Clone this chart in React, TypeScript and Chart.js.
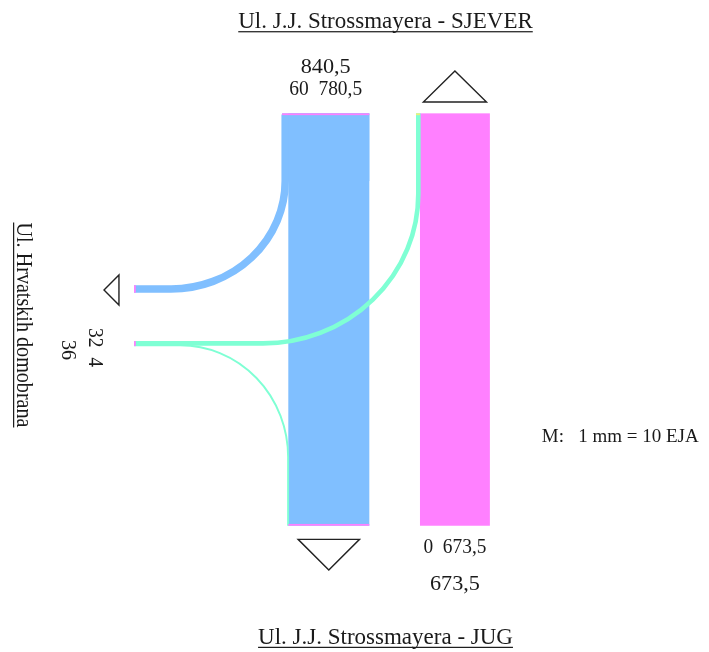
import React, { useEffect, useRef } from "react";
import { Chart, registerables } from "chart.js";

Chart.register(...registerables);

// ---------------- DATA (EJA) ----------------
const legNames = [
  "Ul. J.J. Strossmayera - SJEVER",
  "Ul. J.J. Strossmayera - JUG",
  "Ul. Hrvatskih domobrana",
];
// North approach (southbound): [right turn -> west, straight -> south]
const northTurns = [60, 780.5];
// South approach (northbound): [left turn -> west, straight -> north]
const southTurns = [0, 673.5];
// West approach (eastbound): [left turn -> north, right turn -> south]
const westTurns = [32, 4];
const scaleNote = "M:   1 mm = 10 EJA";
const EJA_PER_MM = 10;

// ---------------- STYLE / LAYOUT ----------------
const CANVAS_W = 709;
const CANVAS_H = 652;
const PX_PER_MM = 1.038;
const BAND_PAD_PX = 1.3;
const COLORS = {
  north: "#80BFFF",
  south: "#FF80FF",
  west: "#7FFFD4",
  cap: "#FF80FF",
  capYellow: "#EEF07A",
  ink: "#1a1a1a",
};
const FONT = '"Liberation Serif", "Times New Roman", serif';

// layout in mm (chart units)
const LAYOUT = {
  top: 109.2,
  bottom: 506.5,
  northRight: 355.8,
  southLeft: 404.6,
  westStart: 129.1,
  westOutY: 278.4,
  westInTop: 329.2,
  rOut: [110, 104],
  rToNorth: [149.6, 144],
  rToSouth: [104, 107.7],
};

const fmt = (v: number) => String(v).replace(".", ",");
const sum = (a: number[]) => a.reduce((s, v) => s + v, 0);
const mm = (eja: number) => eja / EJA_PER_MM;

const flowPlugin = {
  id: "flowDiagram",
  afterDatasetsDraw(chart: any) {
    const { ctx } = chart;
    const xs = chart.scales.x;
    const ys = chart.scales.y;
    const X = (v: number) => xs.getPixelForValue(v);
    const Y = (v: number) => ys.getPixelForValue(v);
    const LX = (d: number) => X(d) - X(0);
    const LY = (d: number) => Y(d) - Y(0);
    const L = LAYOUT;

    const northStraightLeft = L.northRight - mm(northTurns[1]);
    const northTotalLeft = northStraightLeft - mm(northTurns[0]);
    const southRight = L.southLeft + mm(southTurns[1]);

    ctx.save();

    // ---- north approach (blue) ----
    const outVx = northTotalLeft + mm(northTurns[0]) / 2;
    const outArcY = L.westOutY - L.rOut[1];
    ctx.fillStyle = COLORS.north;
    ctx.fillRect(X(northTotalLeft), Y(L.top), X(L.northRight) - X(northTotalLeft), Y(outArcY) - Y(L.top));
    ctx.fillRect(X(northStraightLeft), Y(L.top), X(L.northRight) - X(northStraightLeft), Y(L.bottom) - Y(L.top));

    ctx.lineCap = "butt";
    ctx.lineJoin = "round";
    // right turn north -> west
    ctx.strokeStyle = COLORS.north;
    ctx.lineWidth = Math.max(LX(mm(northTurns[0])) + BAND_PAD_PX, 1.6);
    ctx.beginPath();
    ctx.moveTo(X(outVx), Y(L.top + 1));
    ctx.lineTo(X(outVx), Y(outArcY));
    ctx.ellipse(X(outVx - L.rOut[0]), Y(outArcY), LX(L.rOut[0]), LY(L.rOut[1]), 0, 0, Math.PI / 2, false);
    ctx.lineTo(X(L.westStart), Y(L.westOutY));
    ctx.stroke();

    // ---- south approach (pink) ----
    ctx.fillStyle = COLORS.south;
    ctx.fillRect(X(L.southLeft), Y(L.top), X(southRight) - X(L.southLeft), Y(L.bottom) - Y(L.top));

    // ---- west approach (teal) ----
    ctx.strokeStyle = COLORS.west;
    // left turn west -> north
    const wN = mm(westTurns[0]);
    const vN = L.southLeft - wN / 2;
    const hN = L.westInTop + wN / 2;
    ctx.lineWidth = Math.max(LX(wN) + BAND_PAD_PX, 1.6);
    ctx.beginPath();
    ctx.moveTo(X(vN), Y(L.top));
    ctx.lineTo(X(vN), Y(hN - L.rToNorth[1]));
    ctx.ellipse(X(vN - L.rToNorth[0]), Y(hN - L.rToNorth[1]), LX(L.rToNorth[0]), LY(L.rToNorth[1]), 0, 0, Math.PI / 2, false);
    ctx.lineTo(X(L.westStart), Y(hN));
    ctx.stroke();

    // right turn west -> south
    const wS = mm(westTurns[1]);
    const vS = northStraightLeft - wS / 2;
    const hS = L.westInTop + wN + wS / 2;
    ctx.lineWidth = Math.max(LX(wS), 1.9);
    ctx.beginPath();
    ctx.moveTo(X(vS), Y(L.bottom));
    ctx.lineTo(X(vS), Y(hS + L.rToSouth[1]));
    ctx.ellipse(X(vS - L.rToSouth[0]), Y(hS + L.rToSouth[1]), LX(L.rToSouth[0]), LY(L.rToSouth[1]), 0, 0, -Math.PI / 2, true);
    ctx.lineTo(X(L.westStart), Y(hS));
    ctx.stroke();

    // ---- caps ----
    const capT = 1.8;
    ctx.fillStyle = COLORS.cap;
    ctx.fillRect(X(northTotalLeft), Y(L.top), X(L.northRight) - X(northTotalLeft), capT);
    ctx.fillRect(X(northStraightLeft), Y(L.bottom) - capT, X(L.northRight) - X(northStraightLeft), capT);
    const outH = LY(mm(northTurns[0])) + BAND_PAD_PX;
    ctx.fillRect(X(L.westStart), Y(L.westOutY) - outH / 2, capT, outH);
    ctx.fillRect(X(L.westStart), Y(L.westInTop) - BAND_PAD_PX / 2, capT, LY(mm(sum(westTurns))) + BAND_PAD_PX);
    ctx.fillStyle = COLORS.capYellow;
    ctx.fillRect(X(L.southLeft - wN) - BAND_PAD_PX / 2, Y(L.top), LX(wN) + BAND_PAD_PX / 2, capT);

    // ---- triangles ----
    ctx.strokeStyle = "#222";
    ctx.lineWidth = 1.4;
    ctx.lineJoin = "miter";
    const tri = (pts: number[][]) => {
      ctx.beginPath();
      ctx.moveTo(X(pts[0][0]), Y(pts[0][1]));
      ctx.lineTo(X(pts[1][0]), Y(pts[1][1]));
      ctx.lineTo(X(pts[2][0]), Y(pts[2][1]));
      ctx.closePath();
      ctx.stroke();
    };
    const nC = (L.southLeft + southRight) / 2;
    tri([[nC - 30.4, L.top - 10.9], [nC + 30.4, L.top - 10.9], [nC, L.top - 40.8]]);
    const sC = (northStraightLeft + L.northRight) / 2;
    tri([[sC - 29.6, L.bottom + 13.1], [sC + 29.6, L.bottom + 13.1], [sC, L.bottom + 42.6]]);
    const wC = L.westOutY + 1.0;
    tri([[L.westStart - 14.5, wC - 14.45], [L.westStart - 14.5, wC + 14.45], [L.westStart - 28.9, wC]]);

    // ---- texts ----
    const text = (
      s: string, cx: number, base: number, size: number,
      opts: { rotate?: boolean; width?: number; underline?: boolean; align?: string } = {}
    ) => {
      ctx.save();
      ctx.font = `${size}px ${FONT}`;
      ctx.fillStyle = COLORS.ink;
      ctx.textBaseline = "alphabetic";
      const natural = ctx.measureText(s).width;
      const sx = opts.width ? opts.width / natural : 1;
      const w = natural * sx;
      if (opts.rotate) {
        ctx.translate(X(base), Y(cx));
        ctx.rotate(Math.PI / 2);
      } else {
        ctx.translate(X(cx), Y(base));
      }
      const left = opts.align === "left" ? 0 : -w / 2;
      ctx.save();
      ctx.translate(left, 0);
      ctx.scale(sx, 1);
      ctx.textAlign = "left";
      ctx.fillText(s, 0, 0);
      ctx.restore();
      if (opts.underline) {
        ctx.fillRect(left, 2.8, w, 1.2);
      }
      ctx.restore();
    };

    const northC = (northTotalLeft + L.northRight) / 2;
    text(legNames[0], 371.4, 27.3, 23, { underline: true });
    text(legNames[1], 371.4, 620.4, 23, { underline: true });
    text(legNames[2], 313.1, 16.4, 23, { rotate: true, width: 205, underline: true });

    text(fmt(sum(northTurns)), northC, 70.3, 22, { width: 50 });
    text(`${fmt(northTurns[0])}  ${fmt(northTurns[1])}`, northC, 91.5, 20, { width: 73 });
    text(`${fmt(southTurns[0])}  ${fmt(southTurns[1])}`, nC, 532.8, 20, { width: 63 });
    text(fmt(sum(southTurns)), nC, 568.4, 22, { width: 50 });
    text(`${fmt(westTurns[0])}  ${fmt(westTurns[1])}`, 334.8, 85.7, 20, { rotate: true, width: 39 });
    text(fmt(sum(westTurns)), 337.2, 59.7, 21, { rotate: true, width: 20 });

    text(scaleNote, 521.9, 425.5, 19, { align: "left" });

    ctx.restore();
  },
};

export default function App() {
  const ref = useRef<HTMLCanvasElement | null>(null);
  useEffect(() => {
    if (!ref.current) return;
    const chart = new Chart(ref.current, {
      type: "scatter",
      data: { datasets: [{ data: [], showLine: false, pointRadius: 0 }] },
      options: {
        animation: false,
        responsive: false,
        maintainAspectRatio: false,
        layout: { padding: 0 },
        plugins: { legend: { display: false }, tooltip: { enabled: false }, title: { display: false } },
        scales: {
          x: { type: "linear", min: 0, max: CANVAS_W / PX_PER_MM, display: false },
          y: { type: "linear", min: 0, max: CANVAS_H / PX_PER_MM, reverse: true, display: false },
        },
      },
      plugins: [flowPlugin],
    } as any);
    return () => chart.destroy();
  }, []);
  return (
    <div style={{ position: "fixed", left: 0, top: 0, width: CANVAS_W, height: CANVAS_H, background: "#fff" }}>
      <canvas ref={ref} width={CANVAS_W} height={CANVAS_H} style={{ display: "block" }} />
    </div>
  );
}
